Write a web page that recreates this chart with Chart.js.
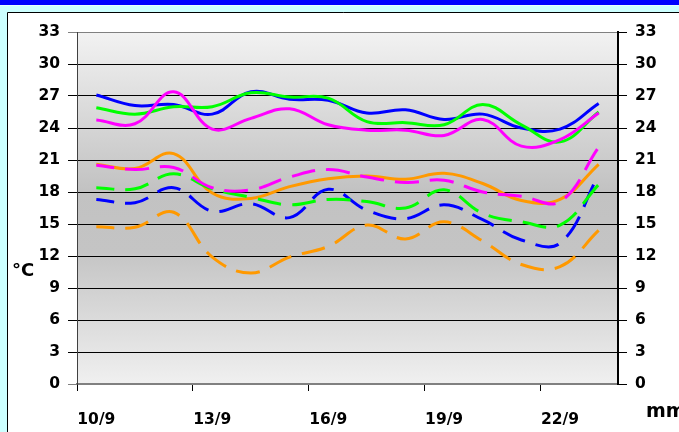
<!DOCTYPE html>
<html>
<head>
<meta charset="utf-8">
<script src="https://cdn.jsdelivr.net/npm/chart.js"></script>
<style>
  html, body { margin: 0; padding: 0; background: #ccffff; overflow: hidden; }
  canvas { display: block; }
</style>
</head>
<body>
<canvas id="chart" width="679" height="432"></canvas>
<script>
"use strict";

const days = ["10/9", "11/9", "12/9", "13/9", "14/9", "15/9", "16/9",
  "17/9", "18/9", "19/9", "20/9", "21/9", "22/9", "23/9"];
const dayTicks = ["10/9", "13/9", "16/9", "19/9", "22/9"];
const tempTicks = [0, 3, 6, 9, 12, 15, 18, 21, 24, 27, 30, 33];

// solid lines
const blueSolid = [27.1, 26.1, 26.2, 25.3, 27.4, 26.7, 26.6, 25.4, 25.7, 24.8, 25.3, 24.0, 23.9, 26.3];
const greenSolid = [25.9, 25.3, 26.0, 26.0, 27.3, 26.9, 26.8, 24.6, 24.5, 24.3, 26.2, 24.3, 22.7, 25.5];
const magentaSolid = [24.75, 24.4, 27.4, 23.9, 24.9, 25.8, 24.3, 23.8, 23.8, 23.3, 24.8, 22.3, 22.9, 25.4];
const orangeSolid = [20.6, 20.2, 21.6, 17.9, 17.4, 18.5, 19.25, 19.5, 19.2, 19.75, 18.8, 17.2, 17.3, 20.6];

// dashed lines
const magentaDash = [20.5, 20.1, 20.3, 18.4, 18.2, 19.4, 20.1, 19.4, 18.9, 19.1, 18.0, 17.6, 17.1, 22.2];
const greenDash = [18.4, 18.3, 19.7, 18.3, 17.5, 16.8, 17.3, 17.1, 16.5, 18.2, 16.0, 15.2, 14.9, 18.7];
const blueDash = [17.3, 17.0, 18.4, 16.2, 16.9, 15.6, 18.25, 16.3, 15.5, 16.8, 15.4, 13.5, 13.2, 19.6];
const orangeDash = [14.75, 14.7, 16.1, 11.9, 10.4, 11.9, 12.9, 14.9, 13.6, 15.2, 13.4, 11.2, 11.0, 14.4];

const font = { family: '"DejaVu Sans", sans-serif', size: 15.5, weight: "bold" };

function line(data, color, dashed) {
  return {
    data: data,
    borderColor: color,
    borderWidth: 3,
    borderDash: dashed ? [24, 11] : [],
    borderDashOffset: dashed ? 6 : 0,
    borderCapStyle: "butt",
    pointRadius: 0,
    fill: false,
    tension: 0.4,
  };
}

const frame = {
  id: "frame",
  beforeDraw(chart) {
    const { ctx, chartArea: a } = chart;
    ctx.save();
    ctx.fillStyle = "#ccffff";
    ctx.fillRect(0, 0, 679, 432);
    ctx.fillStyle = "#0000ff";
    ctx.fillRect(0, 0, 679, 5);
    ctx.fillStyle = "#e8ffff";
    ctx.fillRect(0, 5, 679, 1);
    ctx.fillStyle = "#ffffff";
    ctx.fillRect(7, 12, 672, 420);
    ctx.strokeStyle = "#000000";
    ctx.lineWidth = 1;
    ctx.beginPath();
    ctx.moveTo(7.5, 432);
    ctx.lineTo(7.5, 12.5);
    ctx.lineTo(679, 12.5);
    ctx.stroke();
    const g = ctx.createLinearGradient(0, a.top, 0, a.bottom);
    g.addColorStop(0, "#f2f2f2");
    g.addColorStop(0.45, "#c2c2c2");
    g.addColorStop(0.62, "#c4c4c4");
    g.addColorStop(1, "#f0f0f0");
    ctx.fillStyle = g;
    ctx.fillRect(a.left, a.top, a.right - a.left, a.bottom - a.top);
    ctx.restore();
  },
  afterDraw(chart) {
    const ctx = chart.ctx;
    ctx.save();
    ctx.fillStyle = "#000000";
    ctx.textBaseline = "alphabetic";
    ctx.font = 'bold 18px "DejaVu Sans", sans-serif';
    ctx.fillText("°C", 12, 276);
    ctx.font = 'bold 19px "DejaVu Sans", sans-serif';
    ctx.fillText("mm", 646, 417);
    ctx.restore();
  },
};

new Chart(document.getElementById("chart"), {
  type: "line",
  data: {
    labels: days,
    datasets: [
      line(magentaDash, "#ff00ff", true),
      line(greenDash, "#00ff00", true),
      line(blueDash, "#0000ff", true),
      line(orangeDash, "#ff9900", true),
      line(magentaSolid, "#ff00ff", false),
      line(greenSolid, "#00ff00", false),
      line(blueSolid, "#0000ff", false),
      line(orangeSolid, "#ff9900", false),
    ],
  },
  options: {
    responsive: false,
    animation: false,
    layout: { padding: { top: 32, left: 0, right: 0, bottom: 0 } },
    plugins: {
      legend: { display: false },
      tooltip: { enabled: false },
    },
    scales: {
      x: {
        type: "category",
        offset: true,
        grid: {
          offset: true,
          drawOnChartArea: false,
          tickLength: 7,
          lineWidth: 1,
          color: (c) => (c.index % 3 === 0 ? "#000000" : "rgba(0,0,0,0)"),
        },
        border: { display: true, color: "#808080", width: 2 },
        ticks: {
          autoSkip: false,
          maxRotation: 0,
          padding: 20,
          color: "#000000",
          font: font,
          callback: (v, i) => (dayTicks.includes(days[i]) ? days[i] : ""),
        },
        afterFit: (s) => { s.height = 48; },
      },
      y: {
        position: "left",
        min: 0,
        max: 33,
        afterBuildTicks: (s) => { s.ticks = tempTicks.map((v) => ({ value: v })); },
        grid: {
          tickLength: 9,
          lineWidth: 1,
          color: (c) => (c.tick && (c.tick.value === 33 || c.tick.value === 0) ? "#808080" : "#000000"),
        },
        border: { display: true, color: "#404040", width: 1 },
        ticks: { padding: 8, color: "#000000", font: font },
        afterFit: (s) => { s.width = 77; },
      },
      y2: {
        position: "right",
        min: 0,
        max: 33,
        afterBuildTicks: (s) => { s.ticks = tempTicks.map((v) => ({ value: v })); },
        grid: { drawOnChartArea: false, tickLength: 9, color: "#000000" },
        border: { display: true, color: "#000000", width: 2 },
        ticks: { padding: 8, color: "#000000", font: font },
        afterFit: (s) => { s.width = 61; },
      },
    },
  },
  plugins: [frame],
});
</script>
</body>
</html>
